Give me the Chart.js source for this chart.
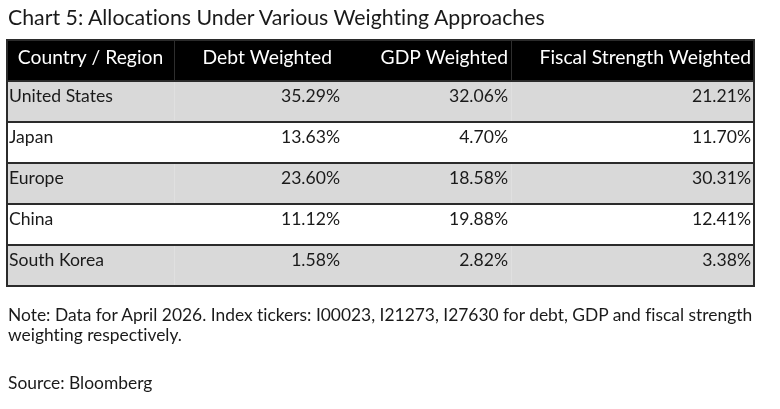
<!DOCTYPE html>
<html>
<head>
<meta charset="utf-8">
<script src="https://cdn.jsdelivr.net/npm/chart.js@4.4.1/dist/chart.umd.min.js"></script>
<style>
  body { margin: 0; background: #fff; font-family: Lato, sans-serif; color: #1a1a1a; font-variant-ligatures: none; }
  #wrap { position: relative; width: 780px; height: 409px; overflow: hidden; }
  #tbl { position: absolute; left: 0; top: 0; }
  .txt { position: absolute; left: 8px; white-space: nowrap; }
  #title { top: 4px; font-size: 21.3px; }
  #note { top: 305px; font-size: 17.4px; line-height: 20px; }
  #source { top: 372px; font-size: 17.4px; }
</style>
</head>
<body>
<div id="wrap">
  <canvas id="tbl" width="780" height="409"></canvas>
  <div class="txt" id="title">Chart 5: Allocations Under Various Weighting Approaches</div>
  <div class="txt" id="note">Note: Data for April 2026. Index tickers: I00023, I21273, I27630 for debt, GDP and fiscal strength<br>weighting respectively.</div>
  <div class="txt" id="source">Source: Bloomberg</div>
</div>
<script>
// table data
var headers = ["Country / Region", "Debt Weighted", "GDP Weighted", "Fiscal Strength Weighted"];
var countries = ["United States", "Japan", "Europe", "China", "South Korea"];
var debtW = [35.29, 13.63, 23.60, 11.12, 1.58];
var gdpW = [32.06, 4.70, 18.58, 19.88, 2.82];
var fiscalW = [21.21, 11.70, 30.31, 12.41, 3.38];

// layout (x in table units = px from left table edge)
var tableW = 747;
var colEdges = [0, 167, 338, 504, 747];
var valueRight = [0, 333, 501, 744];
var headRight = [83.5, 325, 501, 744];
var rowColors = ["#000000", "#d9d9d9", "#ffffff", "#d9d9d9", "#ffffff", "#d9d9d9"];

var rowLabels = [headers[0]].concat(countries);
var fullRows = rowLabels.map(function () { return [0, tableW]; });

var tablePlugin = {
    id: "tableText",
    afterDatasetsDraw: function (chart) {
        var ctx = chart.ctx;
        var x = chart.scales.x;
        var y = chart.scales.y;
        var area = chart.chartArea;
        var cols = [debtW, gdpW, fiscalW];
        ctx.save();

        // faint column dividers
        ctx.strokeStyle = "rgba(255,255,255,0.18)";
        ctx.lineWidth = 1;
        [1, 3].forEach(function (c) {
            var px = Math.round(x.getPixelForValue(colEdges[c])) + 0.5;
            ctx.beginPath();
            ctx.moveTo(px, area.top);
            ctx.lineTo(px, area.bottom);
            ctx.stroke();
        });

        // row borders
        ctx.strokeStyle = "#2b2b2b";
        ctx.lineWidth = 2;
        for (var r = 1; r < rowLabels.length; r++) {
            var edge = (y.getPixelForValue(r - 1) + y.getPixelForValue(r)) / 2;
            ctx.beginPath();
            ctx.moveTo(area.left, edge);
            ctx.lineTo(area.right, edge);
            ctx.stroke();
        }
        ctx.strokeRect(area.left, area.top, area.right - area.left, area.bottom - area.top);

        // header
        ctx.font = "19.3px Lato";
        ctx.fillStyle = "#ffffff";
        ctx.textBaseline = "alphabetic";
        var hy = y.getPixelForValue(0) + 3;
        headers.forEach(function (h, i) {
            ctx.textAlign = i === 0 ? "center" : "right";
            ctx.fillText(h, x.getPixelForValue(headRight[i]), hy);
        });

        // body
        ctx.font = "17.6px Lato";
        ctx.fillStyle = "#1a1a1a";
        countries.forEach(function (c, i) {
            var ry = y.getPixelForValue(i + 1) + 0.5;
            ctx.textAlign = "left";
            ctx.fillText(c, x.getPixelForValue(2), ry);
            ctx.textAlign = "right";
            cols.forEach(function (col, j) {
                ctx.fillText(col[i].toFixed(2) + "%", x.getPixelForValue(valueRight[j + 1]), ry);
            });
        });
        ctx.restore();
    }
};

new Chart("tbl", {
    type: "bar",
    data: {
        labels: rowLabels,
        datasets: [{
            data: fullRows,
            backgroundColor: rowColors,
            borderWidth: 0,
            barPercentage: 1,
            categoryPercentage: 1
        }]
    },
    options: {
        indexAxis: "y",
        responsive: false,
        animation: false,
        events: [],
        layout: { padding: { left: 7, right: 26, top: 40, bottom: 123 } },
        scales: {
            x: { type: "linear", min: 0, max: tableW, display: false },
            y: { type: "category", display: false }
        },
        plugins: {
            legend: { display: false },
            tooltip: { enabled: false }
        }
    },
    plugins: [tablePlugin]
});
</script>
</body>
</html>
